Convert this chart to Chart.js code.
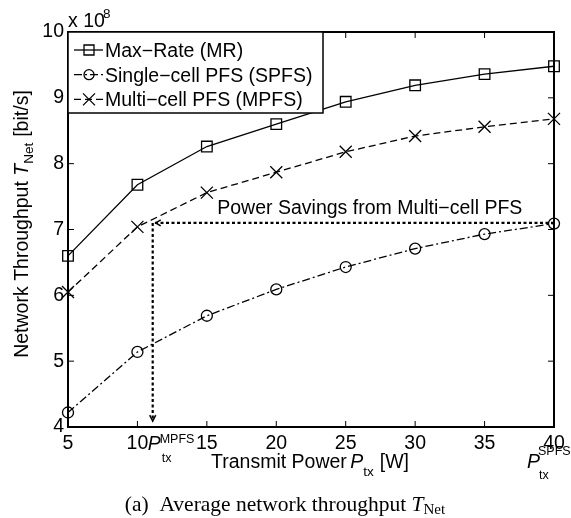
<!DOCTYPE html>
<html>
<head>
<meta charset="utf-8">
<script src="https://cdn.jsdelivr.net/npm/chart.js@4.4.1/dist/chart.umd.min.js"></script>
<style>
  html, body { margin: 0; padding: 0; background: #fff; }
  canvas { display: block; }
</style>
</head>
<body>
<canvas id="thr" width="571" height="518"></canvas>
<script>
// transmit power [W] and network throughput [x 1e8 bit/s]
const powerW = [5, 10, 15, 20, 25, 30, 35, 40];
const maxRate = [6.60, 7.68, 8.26, 8.60, 8.94, 9.19, 9.36, 9.48];
const singleCellPfs = [4.22, 5.14, 5.69, 6.09, 6.43, 6.71, 6.93, 7.09];
const multiCellPfs = [6.05, 7.04, 7.56, 7.87, 8.18, 8.42, 8.56, 8.68];
const seriesNames = ["Max\u2212Rate (MR)", "Single\u2212cell PFS (SPFS)", "Multi\u2212cell PFS (MPFS)"];
const xTicks = [5, 10, 15, 20, 25, 30, 35, 40];
const yTicks = [4, 5, 6, 7, 8, 9, 10];
// power savings annotation
const savingsLevel = 7.1;
const mpfsPower = 11.1;
const spfsPower = 40;
const arrowBottom = 4.09;

const FONT = '"Liberation Sans", Helvetica, Arial, sans-serif';
const SERIF = '"Liberation Serif", "Times New Roman", serif';
const FS = 19.5;
const F = FS + "px " + FONT;
const FI = "italic " + FS + "px " + FONT;
const FSUB = "13.5px " + FONT;
const FSUP = "12.5px " + FONT;

function pts(xs, ys) { return xs.map((x, i) => ({ x: x, y: ys[i] })); }

function rich(ctx, parts, x, y, align) {
  let w = 0;
  parts.forEach(p => { ctx.font = p.font; p.w = ctx.measureText(p.t).width; w += p.w + (p.gap || 0); });
  let cx = align === "center" ? x - w / 2 : align === "right" ? x - w : x;
  parts.forEach(p => {
    ctx.font = p.font;
    ctx.fillText(p.t, cx, y + (p.dy || 0));
    cx += p.w + (p.gap || 0);
  });
}

function marker(ctx, style, x, y) {
  ctx.beginPath();
  if (style === "rect") {
    ctx.rect(x - 5, y - 5, 10, 10);
  } else if (style === "circle") {
    ctx.arc(x, y, 5, 0, Math.PI * 2);
  } else {
    ctx.moveTo(x - 6, y - 6); ctx.lineTo(x + 6, y + 6);
    ctx.moveTo(x + 6, y - 6); ctx.lineTo(x - 6, y + 6);
  }
  ctx.stroke();
}

const decorations = {
  id: "decorations",
  afterDatasetsDraw(chart) {
    const { ctx, chartArea: a, scales: { x, y } } = chart;
    ctx.save();
    ctx.strokeStyle = "#000";
    ctx.fillStyle = "#000";

    // axes box and inward ticks
    ctx.lineWidth = 1;
    ctx.beginPath();
    xTicks.forEach(v => {
      const px = x.getPixelForValue(v);
      ctx.moveTo(px, a.bottom); ctx.lineTo(px, a.bottom - 6);
      ctx.moveTo(px, a.top); ctx.lineTo(px, a.top + 6);
    });
    yTicks.forEach(v => {
      const py = y.getPixelForValue(v);
      ctx.moveTo(a.left, py); ctx.lineTo(a.left + 6, py);
      ctx.moveTo(a.right, py); ctx.lineTo(a.right - 6, py);
    });
    ctx.stroke();
    ctx.lineWidth = 2;
    ctx.strokeRect(a.left, a.top, a.right - a.left, a.bottom - a.top);

    // arrow heads
    ctx.lineWidth = 1.5;
    const ax = x.getPixelForValue(mpfsPower), ay = y.getPixelForValue(savingsLevel);
    ctx.beginPath();
    ctx.moveTo(ax + 8, ay - 3); ctx.lineTo(ax + 3, ay); ctx.lineTo(ax + 8, ay + 3);
    const by = y.getPixelForValue(arrowBottom);
    ctx.moveTo(ax - 3, by - 6); ctx.lineTo(ax, by); ctx.lineTo(ax + 3, by - 6);
    ctx.stroke();

    // annotation text
    ctx.textBaseline = "alphabetic";
    ctx.textAlign = "left";
    ctx.font = F;
    ctx.fillText("Power Savings from Multi\u2212cell PFS", x.getPixelForValue(15.75), ay - 9);

    // legend
    const lx = a.left, ly = a.top, lw = 255, lh = 81;
    ctx.fillStyle = "#fff";
    ctx.fillRect(lx, ly, lw, lh);
    ctx.lineWidth = 1.5;
    ctx.strokeRect(lx, ly, lw, lh);
    ctx.fillStyle = "#000";
    chart.data.datasets.slice(0, 3).forEach((ds, i) => {
      const ry = ly + 18 + i * 24.7;
      ctx.lineWidth = 1.3;
      ctx.setLineDash(ds.borderDash || []);
      ctx.beginPath(); ctx.moveTo(lx + 6, ry); ctx.lineTo(lx + 35, ry); ctx.stroke();
      ctx.setLineDash([]);
      marker(ctx, ds.pointStyle, lx + 21, ry);
      ctx.font = F;
      ctx.fillText(seriesNames[i], lx + 37, ry + 7);
    });

    // exponent
    ctx.font = F;
    ctx.fillText("x 10", a.left, a.top - 5);
    ctx.font = FSUB;
    ctx.fillText("8", a.left + 35, a.top - 14);

    // y axis title
    ctx.save();
    ctx.translate(28, 224);
    ctx.rotate(-Math.PI / 2);
    rich(ctx, [
      { t: "Network Throughput ", font: F },
      { t: "T", font: FI },
      { t: "Net", font: FSUB, dy: 5, gap: 6 },
      { t: "[bit/s]", font: F }
    ], 0, 0, "center");
    ctx.restore();

    // x axis title
    rich(ctx, [
      { t: "Transmit Power ", font: F, gap: -2 },
      { t: "P", font: FI },
      { t: "tx", font: FSUB, dy: 8, gap: 6 },
      { t: "[W]", font: F }
    ], 310, 468, "center");

    // P_tx^MPFS and P_tx^SPFS labels
    const pm = x.getPixelForValue(mpfsPower) - 5;
    ctx.font = FI;
    ctx.fillText("P", pm, 450);
    ctx.font = FSUP;
    ctx.fillText("MPFS", pm + 12, 443);
    ctx.fillText("tx", pm + 14, 462);
    const ps = x.getPixelForValue(spfsPower) - 27;
    ctx.font = FI;
    ctx.fillText("P", ps, 468);
    ctx.font = FSUP;
    ctx.fillText("SPFS", ps + 11, 455);
    ctx.fillText("tx", ps + 12, 479);

    // caption
    rich(ctx, [
      { t: "(a)  Average network throughput ", font: "21.5px " + SERIF },
      { t: "T", font: "italic 21.5px " + SERIF },
      { t: "Net", font: "15px " + SERIF, dy: 3 }
    ], 285, 511, "center");

    ctx.restore();
  }
};

const lineBase = { borderColor: "#000", borderWidth: 1.3, pointBorderColor: "#000", pointBackgroundColor: "rgba(0,0,0,0)", pointBorderWidth: 1.3, tension: 0, clip: false, fill: false };

new Chart(document.getElementById("thr"), {
  type: "line",
  data: {
    datasets: [
      Object.assign({ label: seriesNames[0], data: pts(powerW, maxRate), pointStyle: "rect", pointRadius: 7.5 }, lineBase),
      Object.assign({ label: seriesNames[1], data: pts(powerW, singleCellPfs), pointStyle: "circle", pointRadius: 5.5, borderDash: [8, 3, 2, 3] }, lineBase),
      Object.assign({ label: seriesNames[2], data: pts(powerW, multiCellPfs), pointStyle: "crossRot", pointRadius: 8.5, borderDash: [7, 4] }, lineBase),
      { label: "savings", data: [{ x: spfsPower, y: savingsLevel }, { x: mpfsPower, y: savingsLevel }, { x: mpfsPower, y: arrowBottom }],
        borderColor: "#000", borderWidth: 2.2, borderDash: [3, 2.5], pointRadius: 0, tension: 0, clip: false, fill: false }
    ]
  },
  options: {
    responsive: false,
    animation: false,
    devicePixelRatio: 1,
    layout: { padding: { top: 32, right: 17, left: 0, bottom: 0 } },
    plugins: { legend: { display: false }, tooltip: { enabled: false } },
    scales: {
      x: {
        type: "linear", min: 5, max: 40,
        afterBuildTicks: s => { s.ticks = xTicks.map(v => ({ value: v })); },
        afterFit: s => { s.height = 91; },
        grid: { display: false, drawTicks: false },
        border: { display: false },
        ticks: { color: "#000", padding: 5, font: { family: FONT, size: FS } }
      },
      y: {
        type: "linear", min: 4, max: 10,
        afterBuildTicks: s => { s.ticks = yTicks.map(v => ({ value: v })); },
        afterFit: s => { s.width = 68; },
        grid: { display: false, drawTicks: false },
        border: { display: false },
        ticks: { color: "#000", padding: 4, font: { family: FONT, size: FS } }
      }
    }
  },
  plugins: [decorations]
});
</script>
</body>
</html>
